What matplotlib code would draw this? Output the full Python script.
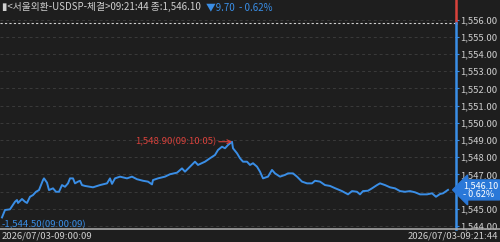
import matplotlib
matplotlib.use("Agg")
import matplotlib.pyplot as plt
import matplotlib.transforms as mtransforms
from matplotlib.ticker import FuncFormatter

# ---- data ----
tick_no = [2, 5, 10, 15, 17, 18, 22, 25, 27, 30, 33, 36, 39, 43, 44, 47, 49, 53, 56, 59,
           62, 65, 68, 70, 73, 75, 78, 80, 82, 85, 93, 100, 107, 110, 112, 115, 118, 120,
           127, 132, 137, 143, 148, 152, 153, 158, 165, 170, 177, 182, 185, 190, 195, 198,
           205, 210, 215, 218, 222, 225, 228, 232, 233, 237, 240, 243, 247, 250, 253, 257,
           260, 263, 268, 272, 275, 280, 285, 288, 293, 297, 302, 307, 312, 315, 320, 325,
           330, 335, 342, 348, 352, 357, 360, 363, 368, 372, 377, 380, 385, 390, 395, 400,
           405, 410, 415, 420, 427, 432, 436, 440, 443, 448]
price = [1544.50, 1544.93, 1544.97, 1545.41, 1545.51, 1545.34, 1545.57, 1545.41, 1545.34,
         1545.70, 1545.80, 1545.99, 1546.09, 1546.67, 1546.77, 1546.52, 1546.09, 1546.19,
         1545.99, 1545.99, 1546.38, 1546.28, 1546.48, 1546.77, 1546.77, 1546.48, 1546.58,
         1546.63, 1546.38, 1546.33, 1546.25, 1546.38, 1546.48, 1546.77, 1546.45, 1546.77,
         1546.83, 1546.87, 1546.77, 1546.87, 1546.72, 1546.63, 1546.58, 1546.42, 1546.67,
         1546.77, 1546.87, 1547.01, 1547.10, 1547.35, 1547.16, 1547.45, 1547.74, 1547.55,
         1547.74, 1547.94, 1548.13, 1548.42, 1548.61, 1548.52, 1548.71, 1548.90, 1548.52,
         1548.23, 1547.94, 1547.74, 1547.74, 1547.55, 1547.65, 1547.45, 1547.16, 1546.77,
         1546.87, 1547.26, 1547.06, 1546.87, 1546.97, 1547.06, 1547.06, 1546.87, 1546.58,
         1546.48, 1546.48, 1546.63, 1546.58, 1546.38, 1546.33, 1546.20, 1546.03, 1545.84,
         1546.03, 1545.99, 1545.84, 1546.03, 1546.05, 1546.19, 1546.38, 1546.48, 1546.38,
         1546.25, 1546.19, 1546.03, 1545.99, 1546.03, 1545.96, 1545.84, 1545.84, 1545.90,
         1545.70, 1545.86, 1545.90, 1546.10]
prev_close = 1555.80
y_ticks = [1544, 1545, 1547, 1548, 1549, 1550, 1551, 1552, 1553, 1554, 1555, 1556]
grid_levels = list(range(1544, 1557))
start_label = "2026/07/03-09:00:09"
end_label = "2026/07/03-09:21:44"
header_main = "▮<서울외환-USDSP-체결>09:21:44 종:1,546.10"
header_chg = "▼9.70  - 0.62%"
max_label = "1,548.90(09:10:05)"
min_label = "1,544.50(09:00:09)"
last_label = "1,546.10\n- 0.62%"

BG = "#1e1e1e"
BLUE = "#3a8ee6"
RED = "#d9423c"
TXT = "#cfcfcf"
FONT = ["Noto Sans CJK KR", "DejaVu Sans"]
plt.rcParams["font.family"] = FONT

W, H = 500, 242
fig = plt.figure(figsize=(W / 100, H / 100), dpi=100, facecolor=BG)
ax = fig.add_axes([0, 13 / H, 455 / W, 229 / H], facecolor=BG)
ax.set_xlim(0, 455)
ax.set_ylim(1543.826, 1557.14)

for s in ax.spines.values():
    s.set_visible(False)

# grid
for v in grid_levels:
    ax.axhline(v, color="#3a3a3a", lw=0.7, ls=(0, (3, 3)), zorder=1)
ax.axhline(prev_close, color="#d0d0d0", lw=0.8, ls=(0, (2, 2)), zorder=2)

ax.plot(tick_no, price, color=BLUE, lw=1.4, zorder=3)

# right edge bar
tr = mtransforms.blended_transform_factory(ax.transAxes, ax.transData)
ax.plot([1.003, 1.003], [prev_close, 1557.14], transform=tr, color=RED, lw=1.8, clip_on=False, zorder=5)
ax.plot([1.003, 1.003], [1543.826, prev_close], transform=tr, color=BLUE, lw=1.8, clip_on=False, zorder=5)

ax.yaxis.tick_right()
ax.set_yticks(y_ticks)
ax.yaxis.set_major_formatter(FuncFormatter(lambda v, p: f"{v:,.2f}"))
ax.tick_params(axis="y", colors=TXT, labelsize=6.8, length=3, width=0.8, pad=1, direction="out")
ax.tick_params(axis="y", color=BLUE)
ax.set_xticks([])

# max annotation
imax = price.index(max(price))
ax.annotate(max_label, xy=(tick_no[imax], price[imax]), xytext=(-16, 0), textcoords="offset pixels",
            ha="right", va="center", color=RED, fontsize=6.9,
            arrowprops=dict(arrowstyle="->", color=RED, lw=0.8, shrinkA=0, shrinkB=0))
# min annotation
imin = price.index(min(price))
ax.text(tick_no[imin], price[imin] - 0.45, "-" + min_label, ha="left", va="center", color=BLUE, fontsize=6.9)

# last value box
ax.text(1.0 + 8 / 455, price[-1], last_label, transform=tr, ha="left", va="center", color="white",
        fontsize=6.5, linespacing=0.9, clip_on=False, zorder=6,
        bbox=dict(boxstyle="larrow,pad=0.15", fc="#2a78d8", ec="#2a78d8"))

# header
fig.text(2 / W, 1 - 7 / H, header_main, color=TXT, fontsize=7.0, ha="left", va="center")
fig.text(206 / W, 1 - 7 / H, header_chg, color=BLUE, fontsize=7.0, ha="left", va="center")

# bottom axis line and labels
fig.add_artist(plt.Line2D([0, 1], [13 / H, 13 / H], color="#a8a8a8", lw=1.2))
fig.text(2 / W, 6 / H, start_label, color=TXT, fontsize=6.8, ha="left", va="center")
fig.text(498 / W, 6 / H, end_label, color=TXT, fontsize=6.8, ha="right", va="center")

fig.savefig("out.png", dpi=100, facecolor=BG)
